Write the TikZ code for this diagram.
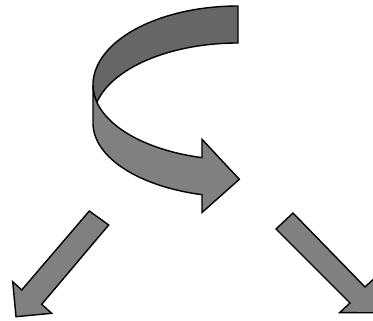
\documentclass[tikz,border=0pt]{standalone}
\begin{document}
\begin{tikzpicture}[x=1pt,y=-1pt,
  outline/.style={draw=black,line width=1.4pt,line join=miter},
  backface/.style={outline,fill={rgb,255:red,102;green,102;blue,102}},
  frontface/.style={outline,fill={rgb,255:red,128;green,128;blue,128}},
  variable=\t,samples=60]
\useasboundingbox (0,0) rectangle (373,321);
\clip (0,0) rectangle (373,321);
% curved ribbon arrow: back (inner) face
\path[backface] (238,6)
  -- plot[domain=90:180] ({238+145*cos(\t)},{85-79*sin(\t)})
  -- plot[domain=180:193.3] ({238+145*cos(\t)},{85-75*sin(\t)})
  -- plot[domain=166.7:90] ({238+145*cos(\t)},{120-77*sin(\t)})
  -- cycle;
% curved ribbon arrow: front face with head
\path[frontface] (93,85)
  -- plot[domain=180:255.62] ({238+145*cos(\t)},{85-75*sin(\t)})
  -- (202,139.3) -- (239.3,179.3) -- (202,212.5)
  -- plot[domain=255.62:180] ({238+145*cos(\t)},{123-74*sin(\t)})
  -- cycle;
% straight arrow down-left
\path[frontface] (89.3,211) -- (108.7,225) -- (41.7,304.3) -- (51.7,313.3)
  -- (16,316.7) -- (12.7,281.7) -- (21.7,290) -- cycle;
% straight arrow down-right
\path[frontface] (276,229) -- (293,213) -- (365,287) -- (375.3,277.4)
  -- (375,312.8) -- (339.7,312.6) -- (350,303) -- cycle;
\end{tikzpicture}
\end{document}
